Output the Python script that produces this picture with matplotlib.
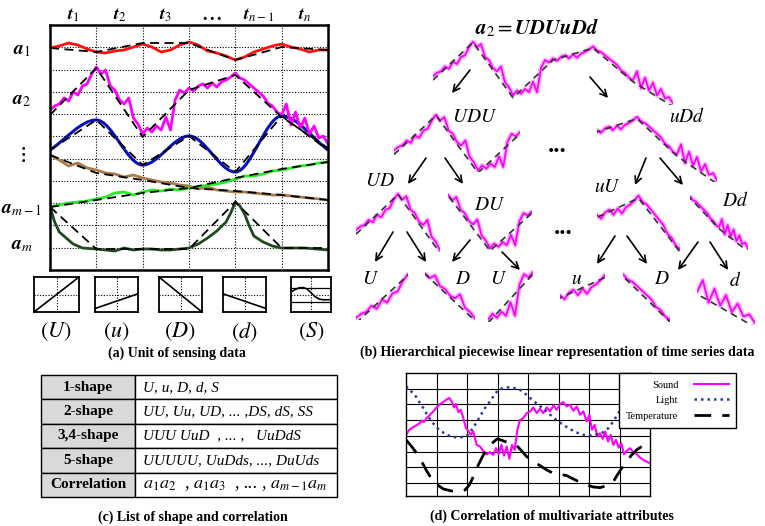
import numpy as np
import matplotlib.pyplot as plt
from matplotlib.path import Path
from matplotlib.patches import PathPatch

plt.rcParams['font.family'] = ['Liberation Serif', 'DejaVu Serif']
plt.rcParams['mathtext.fontset'] = 'stix'

W, H = 765, 526

# ---------------- (a) sensing data: x = time slot, y = screen row (down) ----
knot_x = [0, 1, 2, 3, 4, 5, 6]
step_x = np.linspace(0, 6, 31)
fine_x = np.linspace(0, 6, 61)

a1_vals = [48, 46, 43, 45, 49, 52, 53, 51, 50, 47, 44, 47, 52, 50, 45, 42,
           45, 51, 53, 56, 60, 57, 52, 49, 46, 44, 47, 49, 52, 50, 50]
a1_knots = [48, 52, 43, 43, 60, 47, 50]

a2_vals = [110, 106, 104, 98, 101, 92, 95, 86, 84, 74,
           67, 74, 70, 86, 90, 100, 104, 98, 118, 124,
           134, 128, 132, 126, 130, 117, 130, 100, 90, 93,
           88, 91, 86, 84, 88, 83, 87, 82, 80, 77,
           73, 78, 80, 84, 88, 92, 96, 103, 106, 112,
           115, 104, 125, 112, 128, 118, 134, 126, 138, 136, 144]
a2_knots = [115, 68, 137, 90, 75, 117, 148]

a3_knots = [150, 120, 165, 136, 172, 116, 150]

a4_vals = [155, 160, 166, 163, 168, 170, 173, 174, 177, 175, 178, 180, 182,
           183, 185, 186, 189, 187, 190, 191, 192, 192, 193, 194, 195, 195,
           196, 197, 198, 199, 200]
a4_knots = [155, 173, 180, 188, 191, 195, 200]

a5_vals = [207, 205, 203, 202, 201, 199, 197, 193, 192, 195, 192, 190, 191,
           189, 190, 188, 187, 185, 184, 182, 179, 176, 176, 174, 171, 170,
           168, 166, 165, 163, 162]
a5_knots = [207, 200, 193, 188, 178, 169, 162]

am_x = [0, 0.1, 0.2, 0.35, 0.5, 0.7, 1.0, 1.2, 1.4, 1.6, 1.8, 2.0, 2.2, 2.4,
        2.6, 2.8, 3.0, 3.2, 3.4, 3.6, 3.8, 3.9, 4.0, 4.1, 4.2, 4.3, 4.4, 4.6,
        4.8, 5.0, 5.5, 6.0]
am_vals = [207, 222, 232, 238, 244, 248, 249, 250, 251, 248, 250, 249, 249,
           250, 250, 249, 248, 244, 238, 231, 222, 213, 202, 206, 214, 226,
           236, 242, 246, 248, 248, 250]
am_knots = [207, 249, 249, 249, 202, 248, 248]

time_labels = [r'$\mathbfit{t}_1$', r'$\mathbfit{t}_2$', r'$\mathbfit{t}_3$',
               r'$\mathbf{...}$', r'$\mathbfit{t}_{n-1}$', r'$\mathbfit{t}_n$']
attr_labels = [r'$\mathbfit{a}_1$', r'$\mathbfit{a}_2$', r'$\vdots$',
               r'$\mathbfit{a}_{m-1}$', r'$\mathbfit{a}_m$']

# unit shapes
unit_names = ['U', 'u', 'D', 'd', 'S']
unit_lines = {'U': [0, 1], 'u': [0.1, 0.52], 'D': [1, 0], 'd': [0.52, 0.1]}
s_x = [0, 0.1, 0.2, 0.3, 0.4, 0.5, 0.6, 0.7, 0.8, 0.9, 1.0]
s_y = [0.57, 0.64, 0.69, 0.70, 0.66, 0.55, 0.44, 0.37, 0.35, 0.35, 0.35]

# ---------------- (b) hierarchy of a2 segments ------------------------------
seg_ranges = [(0, 6), (0, 3), (3, 6), (0, 2), (1, 3), (3, 5), (4, 6),
              (0, 1), (1, 2), (2, 3), (3, 4), (4, 5), (5, 6)]
seg_labels = ['UDU', 'uDd', 'UD', 'DU', 'uU', 'Dd', 'U', 'D', 'U', 'u', 'D', 'd']

# ---------------- (c) table -------------------------------------------------
shape_names = ['1-shape', '2-shape', '3,4-shape', '5-shape', 'Correlation']
shape_lists = ['U, u, D, d, S',
               'UU, Uu, UD, ... ,DS, dS, SS',
               'UUU UuD  , ... ,   UuDdS',
               'UUUUU, UuDds, ..., DuUds',
               r'$a_1a_2$  , $a_1a_3$  , ... , $a_{m-1}a_m$']

# ---------------- (d) multivariate attributes -------------------------------
sound_x = [78, 88, 98, 108, 118, 125, 132, 140, 150, 160, 170, 180, 190, 200,
           208, 215, 222, 228, 235, 242, 250, 258, 265, 272, 280, 290, 300,
           310, 320, 330, 340, 348, 356, 364, 372, 380, 388, 396, 404, 412,
           420, 430, 440, 450, 460, 470, 480, 490, 500, 510, 520, 530, 540,
           550, 560, 570, 580, 590, 600, 610, 620, 628, 636, 644, 652, 660,
           668, 676, 684, 692, 700, 708, 716, 724, 732, 740, 750, 760, 770,
           780, 790, 800, 810]
sound_y = [210, 195, 188, 182, 176, 168, 172, 160, 150, 140, 128, 118, 112,
           104, 100, 110, 128, 118, 142, 135, 160, 190, 198, 210, 200, 240,
           245, 258, 268, 262, 270, 250, 268, 240, 272, 245, 282, 240, 255,
           195, 165, 160, 145, 140, 128, 145, 132, 145, 128, 140, 122, 135,
           118, 112, 125, 120, 138, 125, 150, 140, 170, 150, 195, 180, 215,
           205, 222, 200, 230, 210, 240, 225, 248, 235, 268, 258, 250, 262,
           268, 278, 285, 290, 295]
light_x = [78, 90, 100, 110, 120, 130, 140, 155, 170, 185, 200, 215, 230, 245,
           260, 272, 285, 300, 315, 330, 345, 355, 370, 385, 400, 415, 430,
           445, 460, 475, 490, 505, 520, 535, 550, 565, 580, 595, 610, 625,
           640, 655, 670, 685, 700, 715, 730]
light_y = [65, 75, 88, 98, 115, 130, 148, 170, 188, 200, 210, 215, 218, 217,
           213, 200, 180, 155, 130, 110, 88, 75, 70, 68, 70, 72, 82, 95, 108,
           120, 132, 145, 158, 170, 180, 190, 198, 205, 210, 212, 210, 208,
           202, 190, 170, 145, 125]
temp_x = [78, 95, 110, 125, 140, 155, 170, 190, 215, 240, 255, 268, 280, 295,
          310, 325, 340, 352, 365, 380, 395, 410, 425, 440, 460, 480, 500,
          520, 540, 560, 580, 600, 620, 640, 660, 680, 700, 712, 725, 740,
          755, 770, 785, 800, 810]
temp_y = [225, 245, 265, 290, 318, 342, 358, 372, 378, 380, 375, 360, 335,
          300, 270, 250, 232, 222, 226, 232, 236, 242, 258, 275, 290, 302,
          315, 325, 328, 332, 342, 352, 360, 366, 368, 362, 350, 330, 310,
          290, 270, 255, 245, 238, 232]
legend_names = ['Sound', 'Light', 'Temperature']


def fig_box(x0, y0, x1, y1):
    return [x0 / W, 1 - y1 / H, (x1 - x0) / W, (y1 - y0) / H]


fig = plt.figure(figsize=(W / 100, H / 100), dpi=100)

# ---- panel (a)
axa = fig.add_axes(fig_box(50, 25, 328, 270))
axa.set_xlim(0, 6)
axa.set_ylim(270, 25)
for gx in range(1, 6):
    axa.axvline(gx, color='k', ls=(0, (1, 1.5)), lw=0.8)
for k in range(1, 11):
    axa.axhline(25 + k * 245 / 11, color='k', ls=(0, (1, 1.5)), lw=0.8)
axa.set_xticks([])
axa.set_yticks([])
for sp in axa.spines.values():
    sp.set_linewidth(1.8)

axa.plot(step_x, a1_vals, color='#ff1010', lw=2)
axa.plot(fine_x, a2_vals, color='#ff00ff', lw=2)
axa.plot(step_x, a4_vals, color='#a87a4a', lw=2)
axa.plot(step_x, a5_vals, color='#22ee22', lw=2)
axa.plot(am_x, am_vals, color='#1f4a1f', lw=2)

# smooth blue curve through its turning points
verts = [(knot_x[0], a3_knots[0])]
codes = [Path.MOVETO]
n = len(knot_x)
for i in range(n - 1):
    x0, y0, x1, y1 = knot_x[i], a3_knots[i], knot_x[i + 1], a3_knots[i + 1]
    c1 = (x0 + 1 / 3, y0 + (y1 - y0) / 3 if i == 0 else y0)
    c2 = (x1 - 1 / 3, y1 - (y1 - y0) / 3 if i == n - 2 else y1)
    verts += [c1, c2, (x1, y1)]
    codes += [Path.CURVE4] * 3
axa.add_patch(PathPatch(Path(verts, codes), fc='none', ec='#0a10b8', lw=2.2))

for kn in [a1_knots, a2_knots, a3_knots, a4_knots, a5_knots, am_knots]:
    axa.plot(knot_x, kn, color='k', ls='--', dashes=(5, 3), lw=1.3)

# unit shape boxes
unit_boxes = [(34, 79), (95, 138), (159, 202), (223, 266), (291, 331)]
for name, (bx0, bx1) in zip(unit_names, unit_boxes):
    ub = fig.add_axes(fig_box(bx0, 277, bx1, 312))
    ub.set_xlim(0, 1)
    ub.set_ylim(0, 1)
    ub.set_xticks([])
    ub.set_yticks([])
    for sp in ub.spines.values():
        sp.set_linewidth(1.3)
    ub.axvline(0.5, color='k', ls=(0, (1, 1.5)), lw=0.8)
    ub.axhline(0.5, color='k', ls=(0, (1, 1.5)), lw=0.8)
    if name == 'S':
        ub.axhline(0.7, color='k', lw=0.9)
        ub.axhline(0.3, color='k', lw=0.9)
        ub.plot(s_x, s_y, color='k', lw=1.2)
    else:
        ub.plot([0, 1], unit_lines[name], color='k', lw=1.2)

# ---- panel (b)
seg_boxes = [(433, 40, 673, 105), (394, 113, 520, 172), (597, 115, 717, 182),
             (356, 192, 440, 252), (448, 193, 532, 250), (597, 193, 680, 252),
             (690, 195, 748, 250), (356, 272, 408, 320), (425, 272, 475, 320),
             (488, 270, 533, 322), (560, 272, 605, 302), (623, 272, 670, 322),
             (697, 278, 755, 325)]
a2_arr = np.array(a2_vals)
for (lo, hi), bx in zip(seg_ranges, seg_boxes):
    sa = fig.add_axes(fig_box(*bx))
    sa.plot(fine_x, a2_vals, color='#f9b8f9', lw=3.5)
    sa.plot(fine_x, a2_vals, color='#ff00ff', lw=1.3)
    sa.plot(knot_x, a2_knots, color='#333333', ls='--', dashes=(4, 3), lw=1.2)
    m = (fine_x >= lo - 1e-9) & (fine_x <= hi + 1e-9)
    sa.set_xlim(lo, hi)
    sa.set_ylim(a2_arr[m].max() + 2, a2_arr[m].min() - 2)
    sa.axis('off')

# ---- panel (c)
axc = fig.add_axes(fig_box(41, 375, 337, 497))
axc.axis('off')
tbl = axc.table(cellText=[[a, b] for a, b in zip(shape_names, shape_lists)],
                colWidths=[94 / 296, 202 / 296],
                cellColours=[['#d9d9d9', 'white']] * len(shape_names),
                cellLoc='left', bbox=[0, 0, 1, 1])
tbl.auto_set_font_size(False)
for (r, c), cell in tbl.get_celld().items():
    cell.set_linewidth(1.0)
    txt = cell.get_text()
    txt.set_fontsize(11)
    if c == 0:
        cell._loc = 'center'
        txt.set_ha('center')
        txt.set_fontweight('bold')
    else:
        cell.PAD = 0.04
        txt.set_fontstyle('italic')
        if r == len(shape_names) - 1:
            txt.set_fontsize(13)

# ---- panel (d)
axd = fig.add_axes(fig_box(406, 373, 650, 496))
axd.set_xlim(78, 810)
axd.set_ylim(393, 25)
for k in range(1, 8):
    axd.axvline(78 + k * 91.5, color='k', lw=0.8)
    axd.axhline(25 + k * 47, color='k', lw=0.8)
axd.set_xticks([])
axd.set_yticks([])
for sp in axd.spines.values():
    sp.set_linewidth(1.0)
l1, = axd.plot(sound_x, sound_y, color='#ff00ff', lw=1.5)
l2, = axd.plot(light_x, light_y, color='#2a3aa0', lw=1.8, ls=(0, (1, 1.6)))
l3, = axd.plot(temp_x, temp_y, color='k', lw=2, ls=(0, (6, 4)))
leg = fig.legend([l1, l2, l3], legend_names, loc='upper left',
                 bbox_to_anchor=(619 / W, 1 - 373 / H), markerfirst=False,
                 fancybox=False, edgecolor='k', framealpha=1, fontsize=7.5,
                 handlelength=3.3, handletextpad=1.5, borderaxespad=0,
                 borderpad=0.7, labelspacing=0.6)
leg.get_frame().set_linewidth(1.0)

# ---- overlay: labels, arrows, captions (pixel coordinates)
ov = fig.add_axes([0, 0, 1, 1], zorder=10)
ov.set_xlim(0, W)
ov.set_ylim(H, 0)
ov.axis('off')
ov.patch.set_alpha(0)

for i, lab in enumerate(time_labels):
    ov.text(73 + i * 46.3, 15, lab, fontsize=13, ha='center', va='center')
for lab, y in zip(attr_labels, [50, 100, 155, 210, 245]):
    ov.text(22, y, lab, fontsize=14 if lab != r'$\vdots$' else 16,
            ha='center', va='center')
for name, cx in zip(unit_names, [56, 116, 180, 244, 311]):
    ov.text(cx, 332, '$(%s)$' % name, fontsize=16, ha='center', va='center')

ov.text(537, 28, r'$\mathbfit{a}_2 = \mathbfit{UDUuDd}$', fontsize=15,
        ha='center', va='center')
label_pos = [(475, 117), (687, 117), (380, 182), (490, 205), (607, 187),
             (735, 200), (370, 280), (463, 280), (498, 280), (577, 280),
             (662, 280), (735, 280)]
for lab, (lx, ly) in zip(seg_labels, label_pos):
    ov.text(lx, ly, '$%s$' % lab, fontsize=14, ha='center', va='center')
for dx, dy in [(557, 145), (563, 228)]:
    ov.text(dx, dy, '...', fontsize=18, fontweight='bold', ha='center',
            va='center')

arrows = [((470, 70), (452, 93)), ((590, 77), (608, 98)),
          ((426, 158), (408, 184)), ((445, 158), (463, 184)),
          ((646, 158), (635, 185)), ((660, 158), (683, 185)),
          ((393, 232), (375, 262)), ((407, 232), (426, 262)),
          ((470, 240), (452, 262)), ((502, 252), (520, 270)),
          ((615, 236), (597, 264)), ((627, 236), (647, 264)),
          ((698, 242), (678, 270)), ((710, 242), (728, 270))]
for (x0, y0), (x1, y1) in arrows:
    ov.annotate('', xy=(x1, y1), xytext=(x0, y0),
                arrowprops=dict(arrowstyle='->', lw=1.2, color='k',
                                shrinkA=0, shrinkB=0, mutation_scale=12))

cap = dict(fontsize=10, fontweight='bold', ha='center', va='center')
ov.text(177, 353, '(a) Unit of sensing data', **cap)
ov.text(557, 352, '(b) Hierarchical piecewise linear representation of time series data', **cap)
ov.text(193, 517, '(c) List of shape and correlation', **cap)
ov.text(552, 516, '(d) Correlation of multivariate attributes', **cap)

fig.savefig('out.png', dpi=100)
